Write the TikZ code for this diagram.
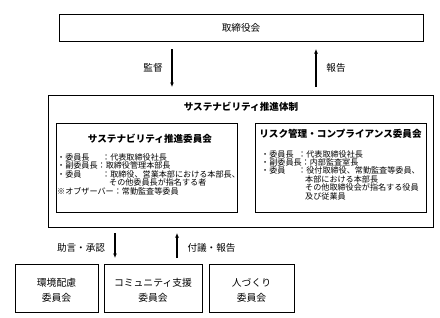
\documentclass[tikz,border=0pt]{standalone}
\usepackage{fontspec}
\newfontfamily\jp{Noto Sans CJK JP}
\usetikzlibrary{arrows.meta}
\begin{document}
\begin{tikzpicture}[x=1pt,y=-1pt,
  frame/.style={draw=black, line width=1pt, inner sep=0pt},
  big/.style={font=\jp\fontsize{9.6}{11}\selectfont, inner sep=0pt},
  ttl/.style={font=\jp\bfseries\fontsize{9.6}{11}\selectfont, inner sep=0pt},
  body/.style={font=\jp\fontsize{8.1}{8.4}\selectfont, inner sep=0pt, anchor=west},
  two/.style={font=\jp\fontsize{9.8}{15}\selectfont, align=center, inner sep=0pt},
  arr/.style={line width=1.1pt, -{Latex[length=4.5pt,width=4pt]}}]
\useasboundingbox (0,0) rectangle (440,317);
% boxes
\node[frame, minimum width=364pt, minimum height=27pt] (top) at (241,27.5) {};
\node[big] (toptxt) at (241,28) {取締役会};
\node[frame, minimum width=385pt, minimum height=132pt] (outer) at (240.5,161) {};
\node[ttl] (outttl) at (241,107) {サステナビリティ推進体制};
\node[frame, minimum width=181pt, minimum height=89pt] (lin) at (146.5,167.5) {};
\node[frame, minimum width=171pt, minimum height=89pt] (rin) at (340.5,167.5) {};
\node[ttl] (lttl) at (150,139) {サステナビリティ推進委員会};
\node[ttl] (rttl) at (340.5,134) {リスク管理・コンプライアンス委員会};
% left body
\node[body] (l1a) at (57,157) {・委員長};
\node[body] (l1b) at (102,157) {：代表取締役社長};
\node[body] (l2) at (57,165.5) {・副委員長：取締役管理本部長};
\node[body] (l3a) at (57,174) {・委員};
\node[body] (l3b) at (102,174) {：取締役、営業本部における本部長、};
\node[body] (l4) at (109,182.5) {その他委員長が指名する者};
\node[body] (l5) at (57,191) {※オブザーバー：常勤監査等委員};
% right body
\node[body] (r1a) at (261,154) {・委員長};
\node[body] (r1b) at (298,154) {：代表取締役社長};
\node[body] (r2) at (261,162.4) {・副委員長：内部監査室長};
\node[body] (r3a) at (261,170.8) {・委員};
\node[body] (r3b) at (298,170.8) {：役付取締役、常勤監査等委員、};
\node[body] (r4) at (305,179.2) {本部における本部長};
\node[body] (r5) at (305,187.6) {その他取締役会が指名する役員};
\node[body] (r6) at (305,196) {及び従業員};
% bottom boxes
\node[frame, minimum width=83pt, minimum height=48pt] (b1) at (56.5,288) {};
\node[frame, minimum width=98pt, minimum height=48pt] (b2) at (153,288) {};
\node[frame, minimum width=85pt, minimum height=48pt] (b3) at (251.5,288) {};
\node[two] (b1t) at (56.5,290) {環境配慮\\委員会};
\node[two] (b2t) at (153,290) {コミュニティ支援\\委員会};
\node[two] (b3t) at (251.5,290) {人づくり\\委員会};
% arrows
\coordinate (d1s) at (172,49); \coordinate (d1e) at (172,87);
\coordinate (u1s) at (316,87); \coordinate (u1e) at (316,49);
\coordinate (d2s) at (115,233); \coordinate (d2e) at (115,258);
\coordinate (u2s) at (177,258); \coordinate (u2e) at (177,233);
\draw[arr] (d1s) -- (d1e);
\draw[arr] (u1s) -- (u1e);
\draw[arr] (d2s) -- (d2e);
\draw[arr] (u2s) -- (u2e);
\node[big] (kansa) at (153,68) {監督};
\node[big] (hokoku) at (336,68) {報告};
\node[big] (jogen) at (81,248) {助言・承認};
\node[big] (fugi) at (211.5,248) {付議・報告};
\end{tikzpicture}
\end{document}
